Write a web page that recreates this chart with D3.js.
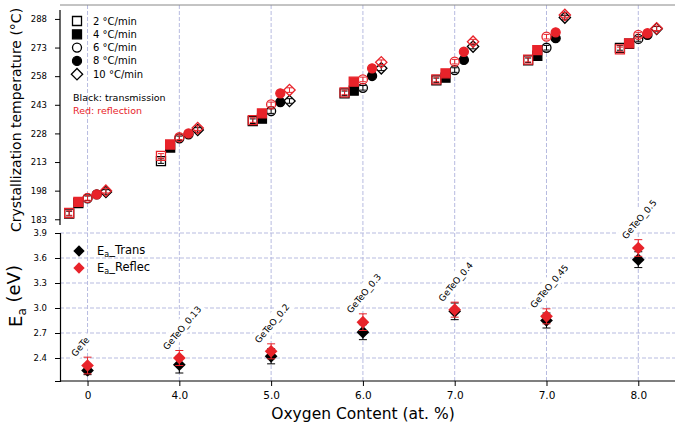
<!DOCTYPE html>
<html>
<head>
<meta charset="utf-8">
<script src="https://cdn.jsdelivr.net/npm/d3@7"></script>
<style>
  body { margin: 0; background: #fff; }
  svg { font-family: "DejaVu Sans", sans-serif; }
  .grid line { stroke: #b7bbe0; stroke-width: 1; stroke-dasharray: 4,2; }
</style>
</head>
<body>
<div id="chart"></div>
<script>
// Categories on the x axis (evenly spaced, labelled by oxygen content)
var categories = ['0', '4.0', '5.0', '6.0', '7.0', '7.0', '8.0'];
var sampleNames = ['GeTe', 'GeTeO_0.13', 'GeTeO_0.2', 'GeTeO_0.3', 'GeTeO_0.4', 'GeTeO_0.45', 'GeTeO_0.5'];
var rates = ['2 °C/min', '4 °C/min', '6 °C/min', '8 °C/min', '10 °C/min'];
var rateOffsets = [-0.2, -0.1, 0, 0.1, 0.2];

// Crystallization temperature (°C), one row per sample, one value per heating rate
var tcTrans = [
  [186.0, 191.5, 194.0, 196.0, 197.3],
  [213.5, 220.6, 225.4, 227.5, 229.8],
  [234.4, 235.7, 239.7, 244.4, 245.0],
  [249.0, 250.4, 251.9, 258.1, 262.1],
  [255.8, 257.2, 261.2, 266.5, 273.5],
  [266.3, 268.7, 272.9, 277.9, 288.7],
  [272.8, 275.0, 277.5, 279.6, 282.8]
];
var tcReflec = [
  [186.3, 192.1, 194.2, 196.0, 198.0],
  [216.2, 222.2, 226.0, 228.0, 230.8],
  [235.0, 238.5, 243.2, 249.0, 250.7],
  [249.5, 255.1, 256.3, 262.1, 265.3],
  [256.3, 259.5, 265.6, 270.8, 276.1],
  [266.7, 271.7, 278.7, 281.0, 290.1],
  [272.0, 275.2, 279.6, 280.5, 283.1]
];
var tcErr = 1.2;

// Activation energy (eV)
var eaTrans = [2.25, 2.32, 2.42, 2.71, 2.96, 2.85, 3.58];
var eaTransErr = [0.05, 0.10, 0.09, 0.09, 0.10, 0.09, 0.095];
var eaReflec = [2.31, 2.40, 2.48, 2.83, 2.98, 2.90, 3.72];
var eaReflecErr = [0.10, 0.09, 0.09, 0.10, 0.09, 0.09, 0.10];

var tcTicks = [183, 198, 213, 228, 243, 258, 273, 288];
var eaTicks = [2.4, 2.7, 3.0, 3.3, 3.6, 3.9];

var RED = '#e8232a';

var width = 675, height = 428;
var svg = d3.select('#chart').append('svg')
  .attr('width', width).attr('height', height);

// Scales
var x = d3.scaleLinear().domain([-0.3, 6.4]).range([60, 675]);
var yTop = d3.scaleLinear().domain([180, 295.3]).range([225, 5]);
var yBot = d3.scaleLinear().domain([2.124, 3.9]).range([381, 233]);

// Grid lines
var grid = svg.append('g').attr('class', 'grid');
grid.selectAll('line.v')
  .data(categories)
  .enter().append('line')
  .attr('x1', function(d, i) { return x(i); })
  .attr('x2', function(d, i) { return x(i); })
  .attr('y1', yTop.range()[1])
  .attr('y2', yBot.range()[0]);
grid.selectAll('line.h')
  .data(eaTicks)
  .enter().append('line')
  .attr('x1', 60).attr('x2', 675)
  .attr('y1', function(d) { return yBot(d); })
  .attr('y2', function(d) { return yBot(d); });

// top frame line
svg.append('line')
  .attr('x1', 60).attr('x2', 675).attr('y1', 5).attr('y2', 5)
  .attr('stroke', '#888').attr('stroke-width', 1);

// Axes
var topAxis = svg.append('g')
  .attr('transform', 'translate(60,0)')
  .call(d3.axisLeft(yTop).tickValues(tcTicks).tickSizeOuter(0).tickSize(5).tickPadding(8));
topAxis.select('.domain').attr('d', 'M0,10V225');

var botAxis = svg.append('g')
  .attr('transform', 'translate(60,0)')
  .call(d3.axisLeft(yBot).tickValues(eaTicks).tickSizeOuter(0).tickSize(5).tickPadding(8)
    .tickFormat(d3.format('.1f')));

var xAxis = svg.append('g')
  .attr('transform', 'translate(0,381)')
  .call(d3.axisBottom(x).tickValues(d3.range(categories.length)).tickSizeOuter(0)
    .tickSize(5).tickPadding(6)
    .tickFormat(function(i) { return categories[i]; }));
xAxis.select('.domain').attr('d', 'M60,0H675');

[topAxis, botAxis].forEach(function(a) { a.selectAll('text').attr('font-size', 8.5).attr('font-family', 'DejaVu Sans'); });
xAxis.selectAll('text').attr('font-size', 10.5).attr('font-family', 'DejaVu Sans');
svg.selectAll('.domain').attr('stroke-width', 1.2);

// Axis titles
svg.append('text')
  .attr('transform', 'translate(21,120) rotate(-90)')
  .attr('text-anchor', 'middle')
  .attr('font-size', 14)
  .text('Crystallization temperature (°C)');

var eaTitle = svg.append('text')
  .attr('transform', 'translate(22,296) rotate(-90)')
  .attr('text-anchor', 'middle')
  .attr('font-size', 18);
eaTitle.append('tspan').text('E');
eaTitle.append('tspan').attr('dy', '0.3em').attr('font-size', 12).text('a');
eaTitle.append('tspan').attr('dy', '-0.3em').text(' (eV)');

svg.append('text')
  .attr('x', 363).attr('y', 419)
  .attr('text-anchor', 'middle')
  .attr('font-size', 15.5)
  .text('Oxygen Content (at. %)');

// Symbols
var shapes = ['square', 'square', 'circle', 'circle', 'diamond'];
var filled = [false, true, false, true, false];
function markerPath(shape, s) {
  if (shape === 'circle') return d3.symbol(d3.symbolCircle, s * s * Math.PI / 4)();
  return d3.symbol(d3.symbolSquare, s * s)();
}
function drawMarker(g, k, cx, cy, color) {
  var size = shapes[k] === 'diamond' ? 8 : 9;
  var p = g.append('path')
    .attr('d', markerPath(shapes[k], size))
    .attr('transform', 'translate(' + cx + ',' + cy + ')' + (shapes[k] === 'diamond' ? ' rotate(45)' : ''))
    .attr('stroke', color).attr('stroke-width', 1.3)
    .attr('fill', filled[k] ? color : 'none');
  return p;
}
function errorBar(g, cx, y1, y2, color, cap) {
  g.append('line').attr('x1', cx).attr('x2', cx).attr('y1', y1).attr('y2', y2)
    .attr('stroke', color).attr('stroke-width', 1);
  [y1, y2].forEach(function(yy) {
    g.append('line').attr('x1', cx - cap).attr('x2', cx + cap).attr('y1', yy).attr('y2', yy)
      .attr('stroke', color).attr('stroke-width', 1);
  });
}

// Top panel points
var topG = svg.append('g');
[[tcTrans, '#000'], [tcReflec, RED]].forEach(function(s) {
  var data = s[0], color = s[1];
  data.forEach(function(row, i) {
    row.forEach(function(v, k) {
      var cx = x(i + rateOffsets[k]);
      errorBar(topG, cx, yTop(v + tcErr), yTop(v - tcErr), color, 3);
      drawMarker(topG, k, cx, yTop(v), color);
    });
  });
});

// Top legend
var leg = svg.append('g');
rates.forEach(function(r, k) {
  var yy = 21 + k * 13.3;
  var m = drawMarker(leg, k, 77, yy, '#000');
  if (!filled[k]) m.attr('fill', '#fff');
  leg.append('text').attr('x', 93).attr('y', yy).attr('dy', '0.35em')
    .attr('font-size', 10).text(r);
});
leg.append('text').attr('x', 73).attr('y', 98).attr('dy', '0.35em')
  .attr('font-size', 9.5).text('Black: transmission');
leg.append('text').attr('x', 73).attr('y', 111).attr('dy', '0.35em')
  .attr('font-size', 9.5).attr('fill', RED).text('Red: reflection');

// Sample labels (rotated, with opaque background)
var labG = svg.append('g');
sampleNames.forEach(function(name, i) {
  var ax = x(i) - 12, ay = yBot(eaReflec[i] + eaReflecErr[i]);
  var g = labG.append('g').attr('transform', 'translate(' + ax + ',' + ay + ') rotate(-50)');
  var rect = g.append('rect').attr('fill', '#fff');
  var t = g.append('text').attr('font-size', 9).attr('x', 0).attr('y', 0).text(name);
  var w = t.node().getComputedTextLength();
  rect.attr('x', -3).attr('y', -11).attr('width', w + 6).attr('height', 15);
});

// Bottom panel points
var botG = svg.append('g');
function diamond(g, cx, cy, color, s) {
  g.append('path').attr('d', d3.symbol(d3.symbolSquare, s * s)())
    .attr('transform', 'translate(' + cx + ',' + cy + ') rotate(45)')
    .attr('fill', color);
}
[[eaTrans, eaTransErr, '#000'], [eaReflec, eaReflecErr, RED]].forEach(function(s) {
  s[0].forEach(function(v, i) {
    errorBar(botG, x(i), yBot(v + s[1][i]), yBot(v - s[1][i]), s[2], 4);
    diamond(botG, x(i), yBot(v), s[2], 9);
  });
});

// Bottom legend
[['Trans', '#000'], ['Reflec', RED]].forEach(function(l, k) {
  var yy = 251 + k * 17;
  diamond(svg, 79, yy, l[1], 8);
  var t = svg.append('text').attr('x', 97).attr('y', yy).attr('dy', '0.35em').attr('font-size', 11.5);
  t.append('tspan').text('E');
  t.append('tspan').attr('dy', '0.3em').attr('font-size', 8).text('a');
  t.append('tspan').attr('dy', '-0.3em').text('_' + l[0]);
});
</script>
</body>
</html>
